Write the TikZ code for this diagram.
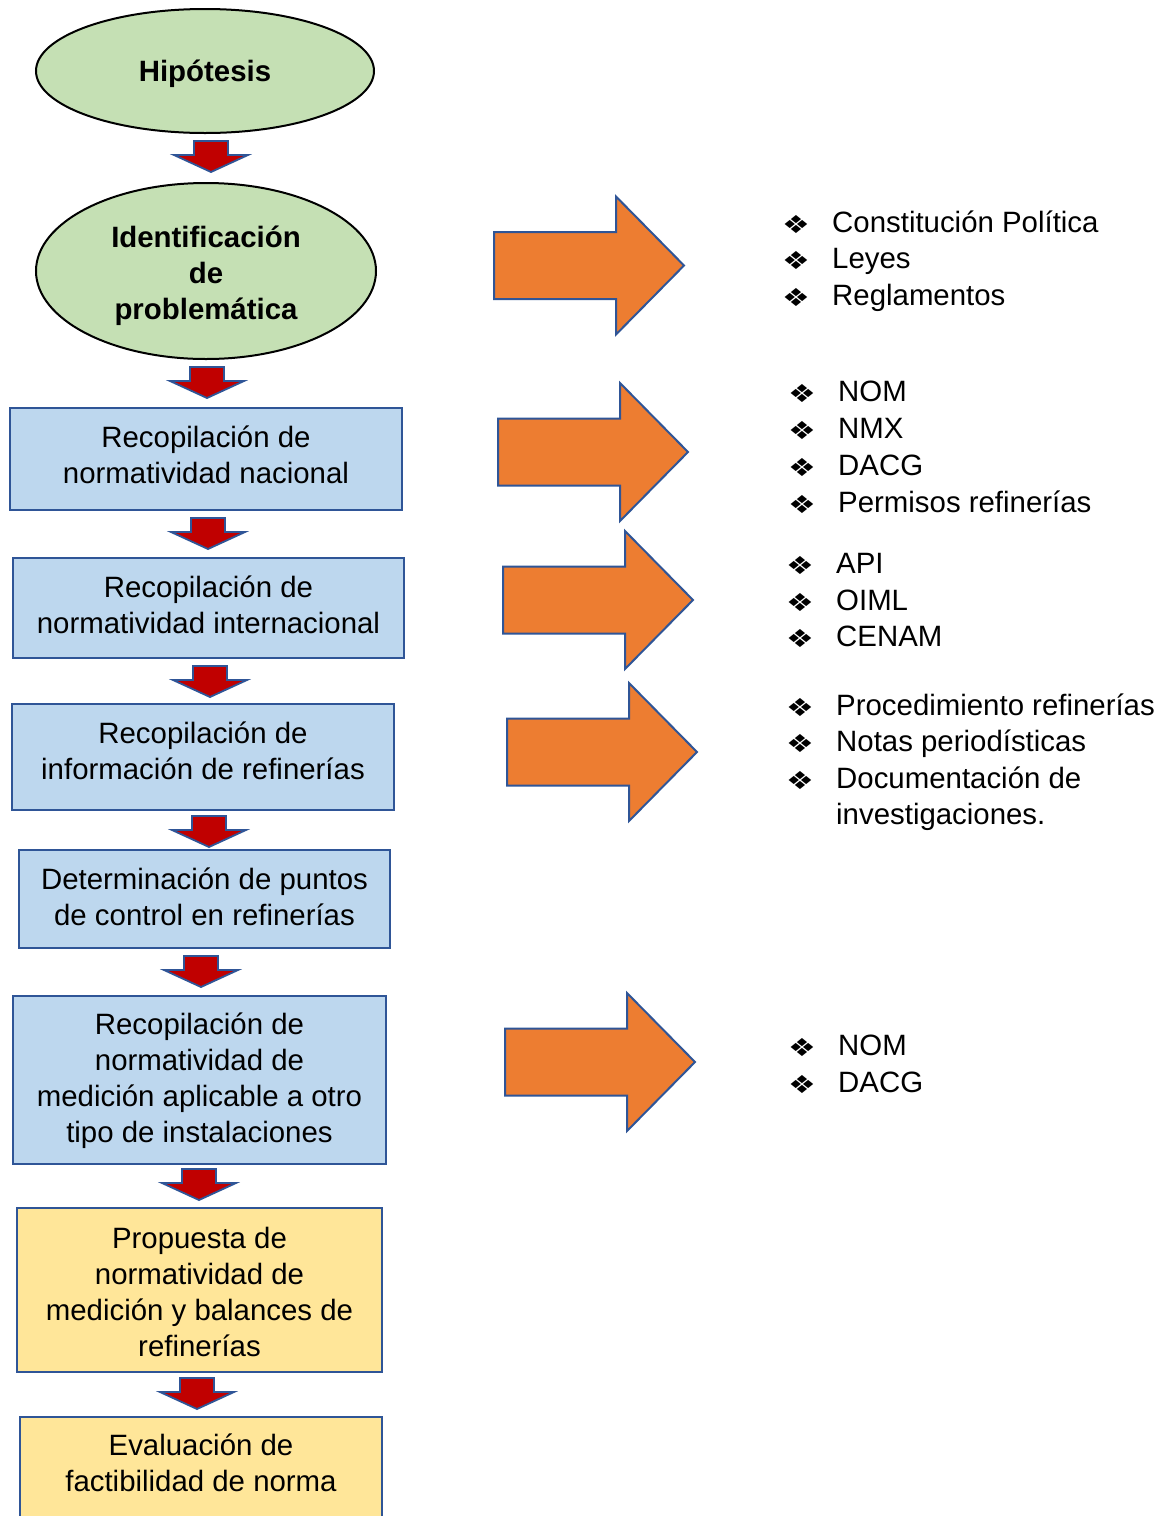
\documentclass[tikz,border=0pt]{standalone}
\usepackage{fontspec}
\setmainfont{Liberation Sans}
\newfontfamily\symfont{DejaVu Sans}
\usetikzlibrary{shapes.geometric}
\definecolor{greenfill}{HTML}{C5E0B4}
\definecolor{bluefill}{HTML}{BDD7EE}
\definecolor{yellowfill}{HTML}{FFE699}
\definecolor{orangefill}{HTML}{ED7D31}
\definecolor{redfill}{HTML}{C00000}
\definecolor{edgeblue}{HTML}{2F5597}
\newcommand\bul{\makebox[47pt][l]{\hspace*{-3pt}\raisebox{-1pt}{\scalebox{1}[0.8]{\symfont\fontsize{31}{31}\selectfont ❖}}}}
\begin{document}
\begin{tikzpicture}[x=1pt,y=-1pt,
  txt/.style={font=\fontsize{29.4}{36}\selectfont, align=center, inner sep=0pt},
  btxt/.style={font=\fontsize{29.4}{36}\selectfont\bfseries, align=center, inner sep=0pt},
  ell/.style={ellipse, draw=black, line width=2pt, fill=greenfill, inner sep=0pt},
  bbox/.style={rectangle, draw=edgeblue, line width=2.2pt, fill=bluefill, inner sep=0pt},
  ybox/.style={rectangle, draw=edgeblue, line width=2.2pt, fill=yellowfill, inner sep=0pt},
  li/.style={anchor=base west, inner sep=0pt, font=\fontsize{29.4}{36}\selectfont},
  darr/.pic={\filldraw[fill=redfill, draw=edgeblue, line width=1.8pt, line join=miter]
     (-17,0) -- (17,0) -- (17,14) -- (37,14) -- (0,31) -- (-37,14) -- (-17,14) -- cycle;},
  barr/.pic={\filldraw[fill=orangefill, draw=edgeblue, line width=2pt, line join=miter]
     (0,-33.5) -- (122,-33.5) -- (122,-69) -- (190,0) -- (122,69) -- (122,33.5) -- (0,33.5) -- cycle;}
]
\clip (0,0) rectangle (1167,1516);
\fill[white] (0,0) rectangle (1167,1516);

% left column: shapes
\node[ell, minimum width=338pt, minimum height=124pt] (e1) at (205,71) {};
\node[ell, minimum width=340pt, minimum height=176pt] (e2) at (206,271) {};
\node[bbox, minimum width=392pt, minimum height=102pt] (b1) at (206,459) {};
\node[bbox, minimum width=391pt, minimum height=100pt] (b2) at (208.5,608) {};
\node[bbox, minimum width=382pt, minimum height=106pt] (b3) at (203,757) {};
\node[bbox, minimum width=371pt, minimum height=98pt] (b4) at (204.5,899) {};
\node[bbox, minimum width=373pt, minimum height=168pt] (b5) at (199.5,1080) {};
\node[ybox, minimum width=365pt, minimum height=164pt] (b6) at (199.5,1290) {};
\node[ybox, minimum width=362pt, minimum height=124pt, anchor=north] (b7) at (201,1416) {};

% left column: texts
\node[btxt] (e1t) at (205,74) {Hipótesis};
\node[btxt] (e2t) at (206,276) {Identificación\\de\\problemática};
\node[txt] (b1t) at (206,455) {Recopilación de\\normatividad nacional};
\node[txt] (b2t) at (208.5,605) {Recopilación de\\normatividad internacional};
\node[txt] (b3t) at (203,751) {Recopilación de\\información de refinerías};
\node[txt] (b4t) at (204.5,897) {Determinación de puntos\\de control en refinerías};
\node[txt] (b5t) at (199.5,1081) {Recopilación de\\normatividad de\\medición aplicable a otro\\tipo de instalaciones};
\node[txt] (b6t) at (199.5,1292) {Propuesta de\\normatividad de\\medición y balances de\\refinerías};
\node[txt] (b7t) at (201,1463) {Evaluación de\\factibilidad de norma};

% small down arrows
\pic (d1) at (211,141) {darr};
\pic (d2) at (207,367) {darr};
\pic (d3) at (208,518) {darr};
\pic (d4) at (210,666) {darr};
\pic (d5) at (209,816) {darr};
\pic (d6) at (201,956) {darr};
\pic (d7) at (199,1169) {darr};
\pic (d8) at (197,1378) {darr};

% big orange arrows
\pic (a1) at (494,265.5) {barr};
\pic (a2) at (498,452) {barr};
\pic (a3) at (503,600) {barr};
\pic (a4) at (507,752) {barr};
\pic (a5) at (505,1062) {barr};

% lists
\node[li] (l1a) at (785,232) {\bul Constitución Política};
\node[li] (l1b) at (785,268) {\bul Leyes};
\node[li] (l1c) at (785,305) {\bul Reglamentos};

\node[li] (l2a) at (791,401) {\bul NOM};
\node[li] (l2b) at (791,438) {\bul NMX};
\node[li] (l2c) at (791,475) {\bul DACG};
\node[li] (l2d) at (791,512) {\bul Permisos refinerías};

\node[li] (l3a) at (789,573) {\bul API};
\node[li] (l3b) at (789,610) {\bul OIML};
\node[li] (l3c) at (789,646) {\bul CENAM};

\node[li] (l4a) at (789,715) {\bul Procedimiento refinerías};
\node[li] (l4b) at (789,751) {\bul Notas periodísticas};
\node[li] (l4c) at (789,788) {\bul Documentación de};
\node[li] (l4d) at (836,824) {investigaciones.};

\node[li] (l5a) at (791,1055) {\bul NOM};
\node[li] (l5b) at (791,1092) {\bul DACG};
\end{tikzpicture}
\end{document}
